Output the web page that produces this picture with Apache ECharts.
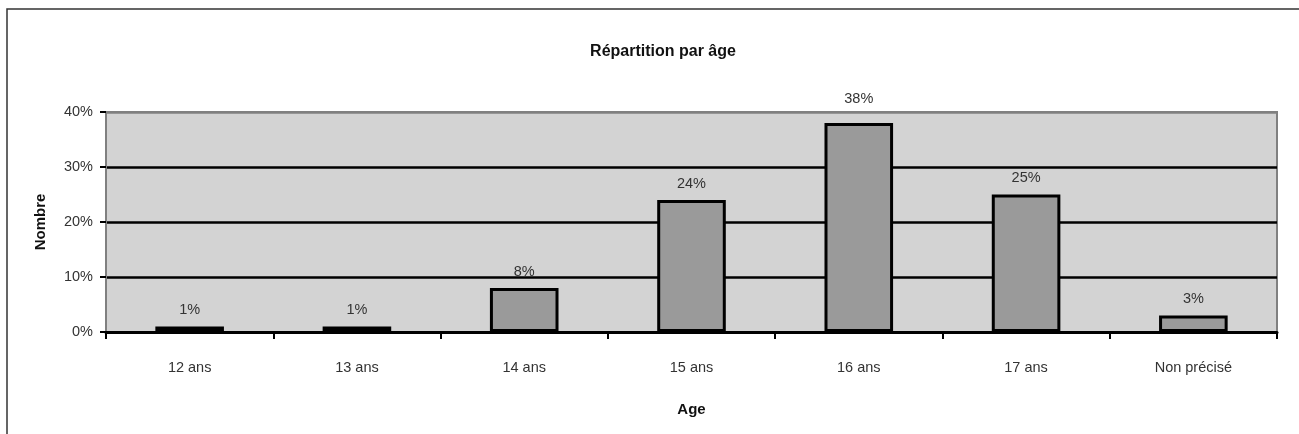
<!DOCTYPE html>
<html>
<head>
<meta charset="utf-8">
<script src="https://cdn.jsdelivr.net/npm/echarts@6/dist/echarts.min.js"></script>
<style>
html,body{margin:0;padding:0;background:#fff;}
#c{width:1299px;height:434px;}
</style>
</head>
<body>
<div id="c"></div>
<script>
const categories = ['12 ans', '13 ans', '14 ans', '15 ans', '16 ans', '17 ans', 'Non précisé'];
const values = [1, 1, 8, 24, 38, 25, 3];
const yTicks = [0, 10, 20, 30, 40];
const titleText = 'Répartition par âge';
const xName = 'Age';
const yName = 'Nombre';

const font = 'Liberation Sans, Arial, sans-serif';
const chart = echarts.init(document.getElementById('c'));
const barData = values.map(function (v) {
  return v >= 35 ? { value: v, label: { distance: 17 } } : v;
});
chart.setOption({
  animation: false,
  backgroundColor: '#fff',
  graphic: [
    { type: 'rect', shape: { x: 7, y: 9, width: 1400, height: 600 },
      style: { fill: 'none', stroke: '#333', lineWidth: 1.5 }, silent: true },
    { type: 'text', x: 663, y: 52,
      style: { text: titleText, font: 'bold 16px ' + font, fill: '#111', textAlign: 'center', textVerticalAlign: 'middle' } }
  ],
  grid: {
    left: 106, right: 22, top: 112, bottom: 102,
    show: true, backgroundColor: '#d3d3d3', borderColor: '#808080', borderWidth: 2
  },
  xAxis: {
    type: 'category',
    data: categories,
    name: xName,
    nameLocation: 'middle',
    nameGap: 70,
    nameTextStyle: { fontFamily: font, fontWeight: 'bold', fontSize: 15, color: '#111' },
    axisLine: { lineStyle: { color: '#000', width: 3 } },
    axisTick: { show: true, alignWithLabel: false, length: 7, lineStyle: { color: '#000', width: 2 } },
    axisLabel: { fontFamily: font, fontSize: 14.5, color: '#333', margin: 28 },
    splitLine: { show: false }
  },
  yAxis: {
    type: 'value',
    min: yTicks[0],
    max: yTicks[yTicks.length - 1],
    interval: yTicks[1] - yTicks[0],
    name: yName,
    nameLocation: 'middle',
    nameGap: 58,
    nameRotate: 90,
    nameTextStyle: { fontFamily: font, fontWeight: 'bold', fontSize: 15, color: '#111' },
    axisLine: { show: true, lineStyle: { color: '#808080', width: 2 } },
    axisTick: { show: true, length: 6, lineStyle: { color: '#000', width: 2 } },
    axisLabel: { fontFamily: font, fontSize: 14.5, color: '#333', margin: 13, formatter: '{value}%', padding: [6, 0, 0, 0] },
    splitLine: { show: true, lineStyle: { color: ['#000', '#000', '#000', '#000', '#808080'], width: 2.5 } }
  },
  series: [{
    type: 'bar',
    data: barData,
    barWidth: '41%',
    itemStyle: { color: '#9a9a9a', borderColor: '#000', borderWidth: 3 },
    label: {
      show: true, position: 'top', distance: 9,
      fontFamily: font, fontSize: 14.5, color: '#333', formatter: '{c}%'
    }
  }]
});
</script>
</body>
</html>
